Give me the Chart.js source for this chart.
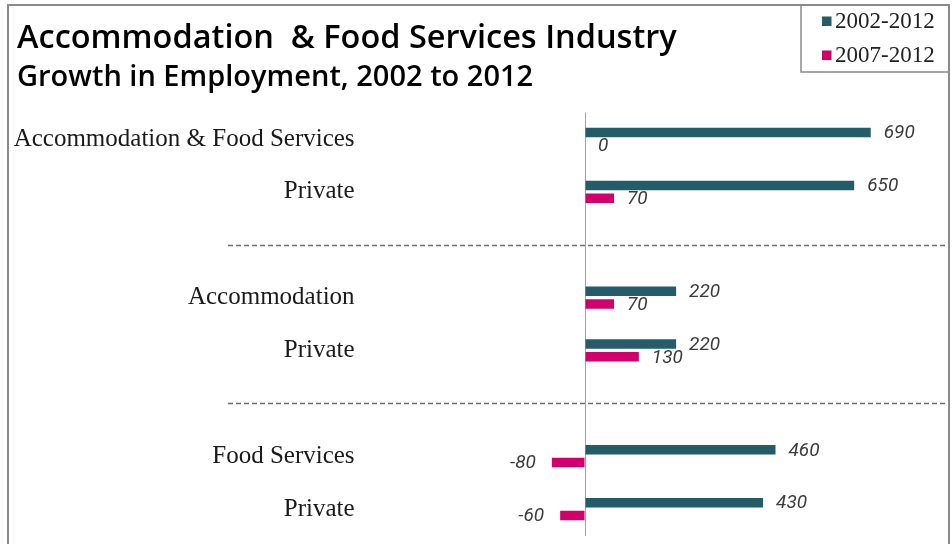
<!DOCTYPE html>
<html>
<head>
<meta charset="utf-8">
<style>
  html, body { margin: 0; padding: 0; background: #fff; }
  #wrap { width: 952px; height: 544px; position: relative; }
</style>
<script src="https://cdn.jsdelivr.net/npm/chart.js@4/dist/chart.umd.min.js"></script>
</head>
<body>
<div id="wrap"><canvas id="c" width="952" height="544"></canvas></div>
<script>
// Employment growth by sector; empty entries separate the three groups
const categories = [
  'Accommodation & Food Services', 'Private', '',
  'Accommodation', 'Private', '',
  'Food Services', 'Private'
];
const growth2002to2012 = [690, 650, null, 220, 220, null, 460, 430];
const growth2007to2012 = [0, 70, null, 70, 130, null, -80, -60];
const seriesNames = ['2002-2012', '2007-2012'];
const titleLines = ['Accommodation  & Food Services Industry', 'Growth in Employment, 2002 to 2012'];

const TEAL = '#245c69';
const MAGENTA = '#d1006a';
const SERIF = '"Liberation Serif", "DejaVu Serif", serif';
const SANS = '"Open Sans", "Noto Sans", sans-serif';
const LABEL_FONT = 'italic 400 19px Roboto, "Liberation Sans", sans-serif';

// Frame, heading, legend box and group separators
const decorations = {
  id: 'decorations',
  beforeDraw(chart) {
    const ctx = chart.ctx;
    ctx.save();
    ctx.fillStyle = '#fff';
    ctx.fillRect(0, 0, chart.width, chart.height);
    ctx.restore();
  },
  afterDatasetsDraw(chart) {
    const ctx = chart.ctx;
    const y = chart.scales.y;
    ctx.save();
    // dashed separators at the empty categories
    ctx.strokeStyle = '#6e6e6e';
    ctx.lineWidth = 1.5;
    ctx.setLineDash([5, 3]);
    categories.forEach((c, i) => {
      if (c !== '') return;
      const py = Math.round(y.getPixelForValue(i)) + 0.5;
      ctx.beginPath();
      ctx.moveTo(228, py);
      ctx.lineTo(945, py);
      ctx.stroke();
    });
    ctx.setLineDash([]);

    // value labels
    ctx.font = LABEL_FONT;
    ctx.fillStyle = '#3c3c3c';
    ctx.textBaseline = 'middle';
    chart.data.datasets.forEach((ds, di) => {
      const meta = chart.getDatasetMeta(di);
      meta.data.forEach((bar, i) => {
        const v = ds.data[i];
        if (v === null || v === undefined) return;
        if (v < 0) {
          ctx.textAlign = 'right';
          ctx.fillText(String(v), bar.x - 16, bar.y + 1);
        } else {
          ctx.textAlign = 'left';
          ctx.fillText(String(v), bar.x + 13, bar.y + 1);
        }
      });
    });
    ctx.restore();
  },
  afterDraw(chart) {
    const ctx = chart.ctx;
    ctx.save();
    // outer frame
    ctx.strokeStyle = '#8a8a8a';
    ctx.lineWidth = 2;
    ctx.beginPath();
    ctx.moveTo(8, chart.height + 2);
    ctx.lineTo(8, 5);
    ctx.lineTo(949, 5);
    ctx.lineTo(949, chart.height + 2);
    ctx.stroke();

    // heading
    ctx.fillStyle = '#000';
    ctx.textAlign = 'left';
    ctx.textBaseline = 'alphabetic';
    ctx.font = '600 32.5px ' + SANS;
    ctx.fillText(titleLines[0], 17, 48);
    ctx.font = '600 29px ' + SANS;
    ctx.fillText(titleLines[1], 17, 86);

    // legend
    ctx.strokeStyle = '#8a8a8a';
    ctx.lineWidth = 1.5;
    ctx.strokeRect(801, 5, 148, 67);
    ctx.font = '23px ' + SERIF;
    ctx.textBaseline = 'middle';
    chart.data.datasets.forEach((ds, i) => {
      const cy = 21 + i * 34;
      ctx.fillStyle = ds.backgroundColor;
      ctx.fillRect(822, cy - 4.5, 9.5, 9.5);
      ctx.fillStyle = '#222';
      ctx.fillText(ds.label, 835, cy + 1);
    });
    ctx.restore();
  }
};

new Chart(document.getElementById('c'), {
  type: 'bar',
  data: {
    labels: categories,
    datasets: [
      { label: seriesNames[0], data: growth2002to2012, backgroundColor: TEAL },
      { label: seriesNames[1], data: growth2007to2012, backgroundColor: MAGENTA }
    ]
  },
  options: {
    indexAxis: 'y',
    responsive: false,
    animation: false,
    events: [],
    datasets: { bar: { categoryPercentage: 0.48, barPercentage: 0.75 } },
    layout: { padding: { top: 112.5, bottom: 8.5, left: 0, right: 15 } },
    plugins: {
      legend: { display: false },
      title: { display: false },
      tooltip: { enabled: false }
    },
    scales: {
      x: {
        min: -100,
        max: 850,
        ticks: { display: false, stepSize: 50 },
        border: { display: false },
        grid: {
          drawTicks: false,
          lineWidth: 1,
          color: (c) => (c.tick && c.tick.value === 0 ? '#a0a0a0' : 'rgba(0,0,0,0)')
        }
      },
      y: {
        afterFit(scale) {
          // wide label gutter; keep the tick padding from adding vertical room
          scale.width = 543.6;
          scale.paddingTop = 0;
          scale.paddingBottom = 0;
        },
        border: { display: false },
        grid: { display: false, drawTicks: false },
        ticks: {
          padding: 189,
          color: '#1a1a1a',
          font: { family: SERIF, size: 25 }
        }
      }
    }
  },
  plugins: [decorations]
});
</script>
</body>
</html>
